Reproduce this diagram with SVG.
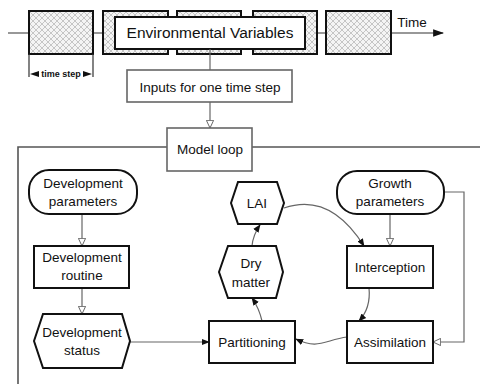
<svg xmlns="http://www.w3.org/2000/svg" width="480" height="384" viewBox="0 0 480 384">
<defs>
<pattern id="hatch" width="6" height="6" patternUnits="userSpaceOnUse">
<rect width="6" height="6" fill="#f4f4f4"/>
<path d="M0,0 L6,6 M6,0 L0,6" stroke="#b0b0b0" stroke-width="0.7"/>
</pattern>
<marker id="fill" viewBox="0 0 10 10" refX="9" refY="5" markerWidth="8" markerHeight="8" markerUnits="userSpaceOnUse" orient="auto">
<path d="M0,1 L10,5 L0,9 Z" fill="#111"/>
</marker>
<marker id="big" viewBox="0 0 10 10" refX="9" refY="5" markerWidth="11" markerHeight="11" markerUnits="userSpaceOnUse" orient="auto">
<path d="M0,1.5 L10,5 L0,8.5 Z" fill="#111"/>
</marker>
<marker id="open" viewBox="0 0 10 10" refX="9" refY="5" markerWidth="9" markerHeight="9" markerUnits="userSpaceOnUse" orient="auto">
<path d="M0.5,1 L9,5 L0.5,9 Z" fill="#fff" stroke="#666" stroke-width="1.1"/>
</marker>
</defs>
<style>
text{font-family:"Liberation Sans",Arial,sans-serif;font-size:13.5px;fill:#111;text-anchor:middle}
.blk{fill:#fff;stroke:#111;stroke-width:2}
.gry{fill:#fff;stroke:#666;stroke-width:1.6}
.hat{fill:url(#hatch);stroke:#111;stroke-width:2}
.con{fill:none;stroke:#666;stroke-width:1.2}
.tl{fill:none;stroke:#333;stroke-width:1.2}
</style>

<g id="timeline">
<path class="tl" d="M8,33 L29,33 M93,33 L103,33 M317,33 L326,33"/>
<path class="tl" d="M391,33 L443,33" marker-end="url(#big)"/>
<rect class="hat" x="29" y="11" width="64" height="43"/>
<rect class="hat" x="103" y="11" width="65" height="43"/>
<rect class="hat" x="177" y="11" width="64" height="43"/>
<rect class="hat" x="253" y="11" width="64" height="43"/>
<rect class="hat" x="326" y="11" width="65" height="43"/>
<text x="412" y="27">Time</text>
</g>

<g id="timestep">
<path class="tl" d="M29,54 L29,77 M93,54 L93,77"/>
<path d="M30,74 L39,71 L39,77 Z M92,74 L83,71 L83,77 Z" fill="#111"/>
<text x="61" y="77" style="font-size:9px;font-weight:bold">time step</text>
</g>

<g id="env">
<rect class="blk" x="115" y="17" width="190" height="32"/>
<text x="210" y="38" style="font-size:15.5px">Environmental Variables</text>
</g>

<g id="connectors">
<path class="con" d="M210,49 L210,70"/>
<path class="con" d="M210,102 L210,128" marker-end="url(#open)"/>
<path d="M167,147 L18,147 L18,384 M252,147 L480,147" fill="none" stroke="#555" stroke-width="1.6"/>
<path class="con" d="M82,214 L82,246" marker-end="url(#open)"/>
<path class="con" d="M82,288 L82,314" marker-end="url(#open)"/>
<path class="con" d="M390,214 L390,246" marker-end="url(#open)"/>
<path class="con" d="M444,192 L464,192 L464,342 L433,342" marker-end="url(#open)"/>
<path class="con" d="M130,342 L209,342" marker-end="url(#fill)"/>
<path class="con" d="M262,321 Q259,308 252,298" marker-end="url(#fill)"/>
<path class="con" d="M252,246 Q253,235 260,225" marker-end="url(#fill)"/>
<path class="con" d="M284,208 Q330,192 364,246" marker-end="url(#fill)"/>
<path class="con" d="M369,288 Q371,308 359,321" marker-end="url(#fill)"/>
<path class="con" d="M347,337 C325,340 318,350 296,339" marker-end="url(#fill)"/>
</g>

<g id="inputs">
<rect class="gry" x="127" y="70" width="165" height="32"/>
<text x="210" y="92">Inputs for one time step</text>
</g>

<g id="modelloop">
<rect class="gry" x="167" y="128" width="85" height="43"/>
<text x="210" y="154">Model loop</text>
</g>

<g id="devparams">
<rect class="blk" x="29" y="170" width="108" height="44" rx="20"/>
<text x="83" y="188">Development</text>
<text x="83" y="206">parameters</text>
</g>

<g id="devroutine">
<rect class="blk" x="34" y="246" width="95" height="42"/>
<text x="82" y="262">Development</text>
<text x="82" y="280">routine</text>
</g>

<g id="devstatus">
<polygon class="blk" points="34,341 43,314 122,314 130,341 122,368 43,368"/>
<text x="82" y="337">Development</text>
<text x="82" y="355">status</text>
</g>

<g id="growthparams">
<rect class="blk" x="337" y="171" width="107" height="43" rx="20"/>
<text x="390" y="188">Growth</text>
<text x="390" y="206">parameters</text>
</g>

<g id="interception">
<rect class="blk" x="347" y="246" width="86" height="42"/>
<text x="390" y="272">Interception</text>
</g>

<g id="assimilation">
<rect class="blk" x="347" y="321" width="86" height="42"/>
<text x="390" y="347">Assimilation</text>
</g>

<g id="partitioning">
<rect class="blk" x="209" y="321" width="86" height="42"/>
<text x="252" y="347">Partitioning</text>
</g>

<g id="lai">
<polygon class="blk" points="231,203 238,182 277,182 284,203 277,224 238,224"/>
<text x="257" y="208">LAI</text>
</g>

<g id="drymatter">
<polygon class="blk" points="219,272 228,246 276,246 283,272 276,298 228,298"/>
<text x="251" y="268">Dry</text>
<text x="251" y="287">matter</text>
</g>
</svg>
